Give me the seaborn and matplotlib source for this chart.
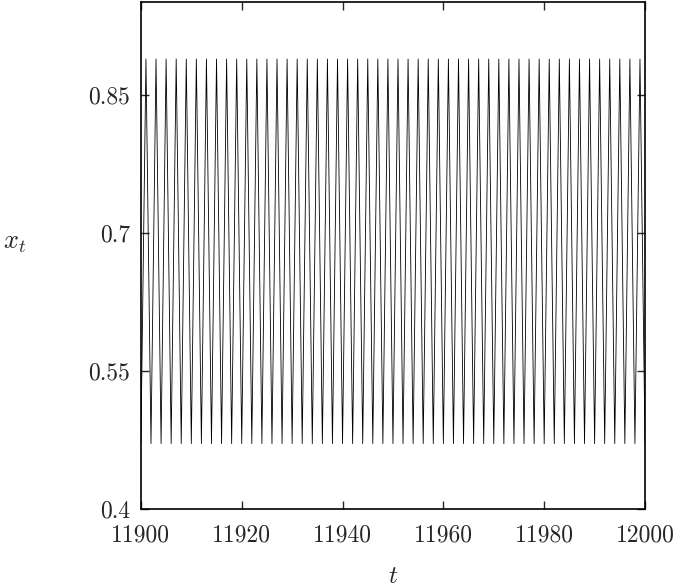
import numpy as np
import pandas as pd
import matplotlib
matplotlib.use("Agg")
import matplotlib.pyplot as plt
import seaborn as sns

# period-2 orbit
t_start = 11900
low_val = 0.471
high_val = 0.889
x_vals = [low_val, high_val] * 50 + [low_val]
t_vals = list(range(t_start, t_start + len(x_vals)))

x_ticks = [11900, 11920, 11940, 11960, 11980, 12000]
y_ticks = [0.4, 0.55, 0.7, 0.85]
y_tick_labels = ["0.4", "0.55", "0.7", "0.85"]

df = pd.DataFrame({"t": t_vals, "x": x_vals})

sns.set_style("ticks")
plt.rcParams["font.family"] = "serif"
plt.rcParams["font.serif"] = ["cmr10", "DejaVu Serif"]
plt.rcParams["mathtext.fontset"] = "cm"
plt.rcParams["axes.unicode_minus"] = False

fig = plt.figure(figsize=(6.84, 5.87), dpi=100)
ax = fig.add_axes([0.206, 0.133, 0.737, 0.8636])

sns.lineplot(data=df, x="t", y="x", color="black", linewidth=0.6, ax=ax)

ax.set_xlim(11900, 12000)
ax.set_ylim(0.4, 0.951)
ax.set_xticks(x_ticks)
ax.set_xticklabels([str(v) for v in x_ticks])
ax.set_yticks(y_ticks)
ax.set_yticklabels(y_tick_labels)
ax.tick_params(direction="in", length=6, width=1.0, labelsize=17,
               top=True, right=True, pad=8)
ax.tick_params(axis="x", pad=11)
for s in ax.spines.values():
    s.set_linewidth(1.2)
    s.set_color("black")

ax.set_xlabel("$t$", fontsize=18, labelpad=14)
ax.set_ylabel("$x_t$", fontsize=19, rotation=0, labelpad=30)
ax.yaxis.set_label_coords(-0.25, 0.5)

fig.savefig("out.png", dpi=100)
